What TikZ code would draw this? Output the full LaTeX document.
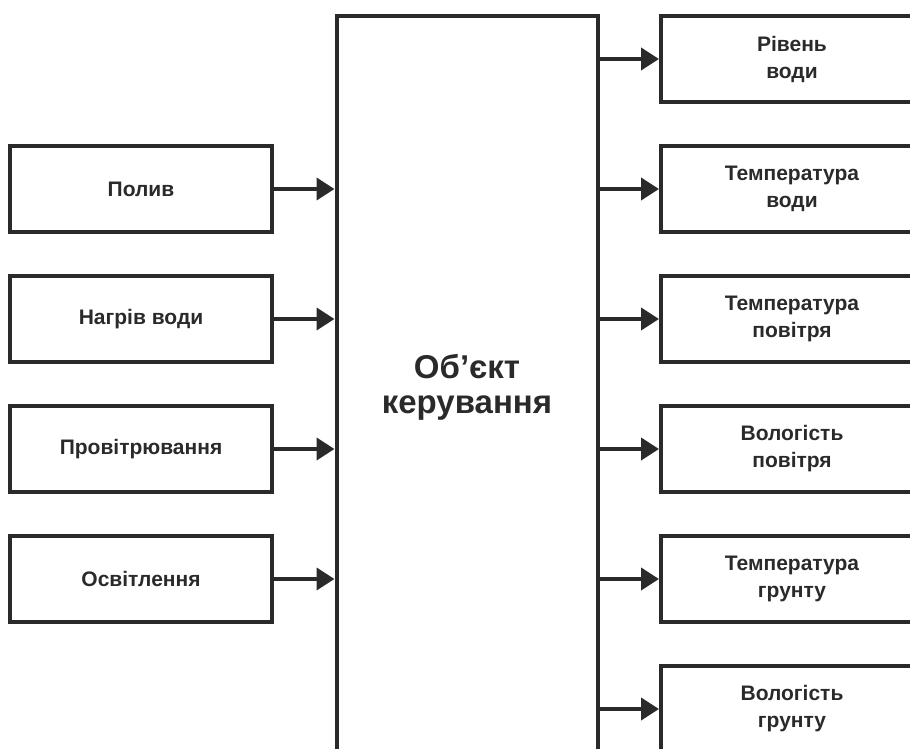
\documentclass[tikz,border=0pt]{standalone}
\usepackage{fontspec}
\setmainfont{Liberation Sans}
\usetikzlibrary{arrows.meta}
\definecolor{liniya}{RGB}{42,42,42}

\begin{document}
\begin{tikzpicture}[x=1pt, y=1pt,
    blok/.style={draw=liniya, line width=4pt, minimum width=262pt, minimum height=86pt,
                 inner sep=0pt, align=center, text=liniya,
                 font=\bfseries\fontsize{21}{27}\selectfont},
    strilka/.style={draw=liniya, line width=4pt, -{Triangle[length=18pt,width=22pt]}}]
          \useasboundingbox (0,0) rectangle (910,-749);

          % об'єкт
          \node[draw=liniya, line width=4pt, minimum width=261pt, minimum height=742pt,
                inner sep=0pt, align=center, text=liniya,
                font=\bfseries\fontsize{33}{35}\selectfont] (obj) at (467,-387) {Об’єкт\\керування};

          % входи
          \node[blok] (poliv)   at (141,-189) {Полив};
          \node[blok] (nahriv)  at (141,-319) {Нагрів води};
          \node[blok] (provitr) at (141,-449) {Провітрювання};
          \node[blok] (osvitl)  at (141,-579) {Освітлення};

          % виходи
          \node[blok] (riven)   at (792,-59)  {Рівень\\води};
          \node[blok] (tvody)   at (792,-189) {Температура\\води};
          \node[blok] (tpovitr) at (792,-319) {Температура\\повітря};
          \node[blok] (vpovitr) at (792,-449) {Вологість\\повітря};
          \node[blok] (tgruntu) at (792,-579) {Температура\\грунту};
          \node[blok] (vgruntu) at (792,-709) {Вологість\\грунту};

          \draw[strilka] (poliv.east)   -- (poliv.east -| obj.west);
          \draw[strilka] (nahriv.east)  -- (nahriv.east -| obj.west);
          \draw[strilka] (provitr.east) -- (provitr.east -| obj.west);
          \draw[strilka] (osvitl.east)  -- (osvitl.east -| obj.west);

          \draw[strilka] (riven.west -| obj.east)   -- (riven.west);
          \draw[strilka] (tvody.west -| obj.east)   -- (tvody.west);
          \draw[strilka] (tpovitr.west -| obj.east) -- (tpovitr.west);
          \draw[strilka] (vpovitr.west -| obj.east) -- (vpovitr.west);
          \draw[strilka] (tgruntu.west -| obj.east) -- (tgruntu.west);
          \draw[strilka] (vgruntu.west -| obj.east) -- (vgruntu.west);

        \end{tikzpicture}
\end{document}
